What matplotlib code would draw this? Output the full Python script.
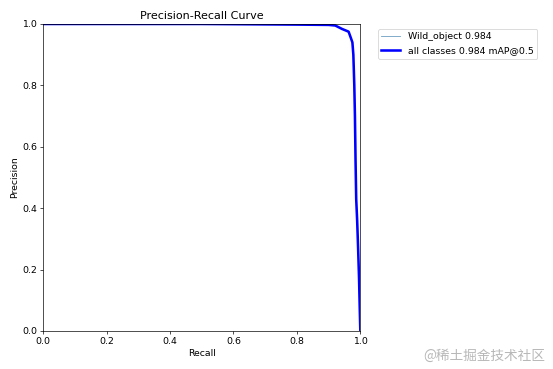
import numpy as np
import matplotlib
matplotlib.use('Agg')
import matplotlib.pyplot as plt

# PR curve points
recall = [0.0, 0.50, 0.80, 0.90, 0.921, 0.942, 0.963, 0.970, 0.975, 0.978,
          0.981, 0.983, 0.985, 0.987, 0.990, 0.993, 0.996, 0.998, 1.0]
precision = [1.0, 1.0, 0.998, 0.997, 0.995, 0.984, 0.975, 0.955, 0.94, 0.90,
             0.80, 0.70, 0.55, 0.43, 0.36, 0.27, 0.17, 0.08, 0.0]
class_name = 'Wild_object'
class_ap = 0.984
map50 = 0.984

plt.rcParams['font.size'] = 11

fig, ax = plt.subplots(1, 1, figsize=(9, 6), dpi=61.5)
fig.subplots_adjust(left=0.078, right=0.651, bottom=0.103, top=0.935)

ax.plot(recall, precision, linewidth=1, color='#6f9fc4', label=f'{class_name} {class_ap:.3f}')
ax.plot(recall, precision, linewidth=3, color='blue', label=f'all classes {map50:.3f} mAP@0.5')

ax.set_xlabel('Recall')
ax.set_ylabel('Precision')
ax.set_xlim(0, 1)
ax.set_ylim(0, 1)
ax.set_title('Precision-Recall Curve', fontsize=13)
ax.legend(bbox_to_anchor=(1.04, 1), loc='upper left')

fig.text(0.985, 0.035, '@稀土掘金技术社区', ha='right', va='center', color='#b8b8b8',
         fontsize=16, family=['Noto Sans CJK SC', 'DejaVu Sans'])

fig.savefig('out.png', dpi=61.5)
